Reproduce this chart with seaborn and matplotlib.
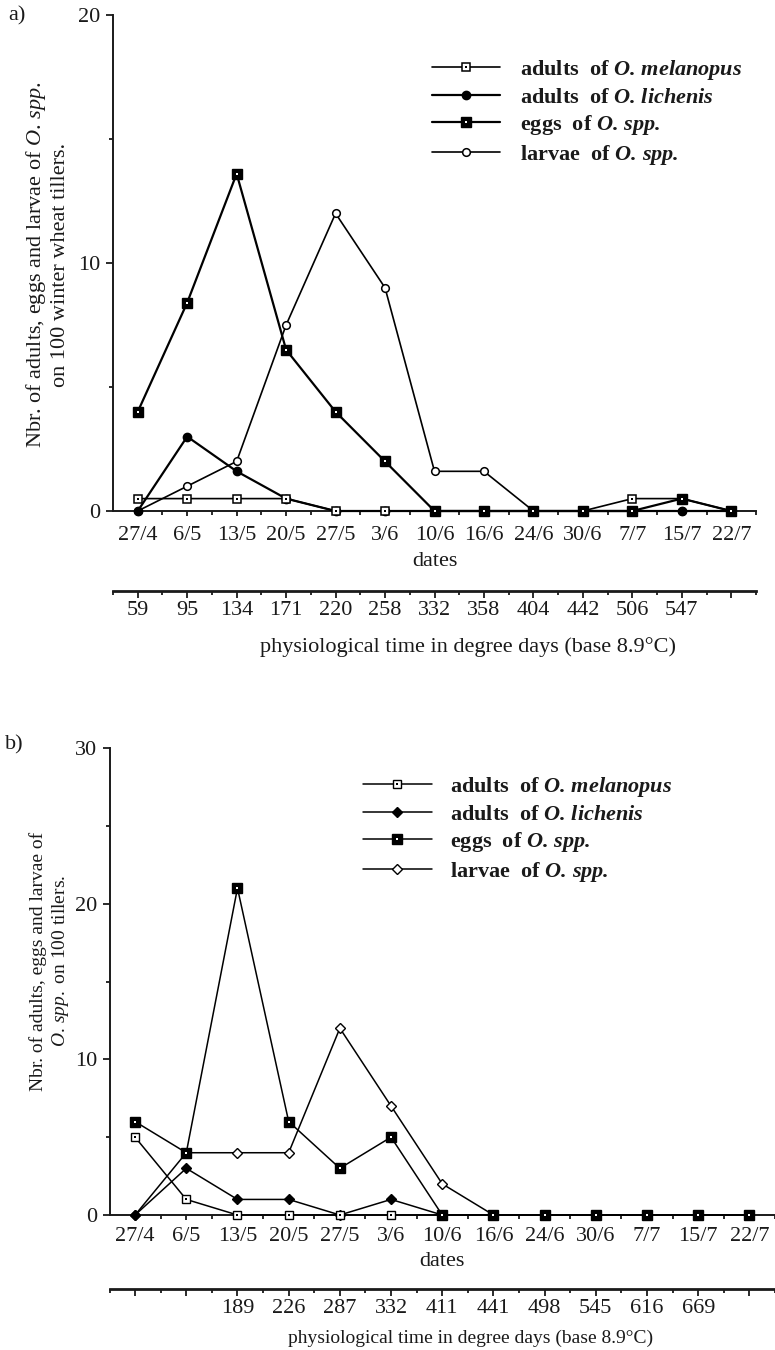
import numpy as np
import matplotlib
matplotlib.use("Agg")
import matplotlib.pyplot as plt
import seaborn as sns
from matplotlib.ticker import FixedLocator
from matplotlib.legend_handler import HandlerTuple

# ---------------- data ----------------
dates = ["27/4", "6/5", "13/5", "20/5", "27/5", "3/6", "10/6", "16/6",
         "24/6", "30/6", "7/7", "15/7", "22/7"]
degree_days_a = ["59", "95", "134", "171", "220", "258", "332", "358",
                 "404", "442", "506", "547", ""]
degree_days_b = ["", "", "189", "226", "287", "332", "411", "441",
                 "498", "545", "616", "669", ""]

a_melanopus = [0.5, 0.5, 0.5, 0.5, 0, 0, 0, 0, 0, 0, 0.5, 0.5, 0]
a_lichenis = [0, 3.0, 1.6, 0.5, 0, 0, 0, 0, 0, 0, 0, 0, 0]
a_eggs = [4.0, 8.4, 13.6, 6.5, 4.0, 2.0, 0, 0, 0, 0, 0, 0.5, 0]
a_larvae = [0, 1.0, 2.0, 7.5, 12.0, 9.0, 1.6, 1.6, 0, 0, 0, 0, 0]

b_melanopus = [5, 1, 0, 0, 0, 0, 0, 0, 0, 0, 0, 0, 0]
b_lichenis = [0, 3, 1, 1, 0, 1, 0, 0, 0, 0, 0, 0, 0]
b_eggs = [6, 4, 21, 6, 3, 5, 0, 0, 0, 0, 0, 0, 0]
b_larvae = [0, 4, 4, 4, 12, 7, 2, 0, 0, 0, 0, 0, 0]

labels = [r"adults  of $\mathbfit{O.\,melanopus}$",
          r"adults  of $\mathbfit{O.\,lichenis}$",
          r"eggs  of $\mathbfit{O.\,spp.}$",
          r"larvae  of $\mathbfit{O.\,spp.}$"]

# ---------------- style ----------------
sns.set_style("ticks")
plt.rcParams.update({
    "font.family": ["Liberation Serif", "DejaVu Serif"],
    "font.size": 16,
    "mathtext.fontset": "custom",
    "mathtext.rm": "Liberation Serif",
    "mathtext.it": "Liberation Serif:italic",
    "mathtext.bf": "Liberation Serif:bold",
    "mathtext.bfit": "Liberation Serif:italic:bold",
    "text.color": "#1a1a1a",
    "axes.labelcolor": "#1a1a1a",
    "xtick.color": "#1a1a1a",
    "ytick.color": "#1a1a1a",
    "axes.edgecolor": "#1a1a1a",
})

W, H = 775, 1350
fig = plt.figure(figsize=(W / 100, H / 100), dpi=100)


def fx(px):
    return px / W


def fy(py):
    return (H - py) / H


ax_a = fig.add_axes([fx(113), fy(511), (756 - 113) / W, (511 - 15) / H])
ax_b = fig.add_axes([fx(109.5), fy(1215), (775 - 109.5) / W, (1215 - 748) / H])


def draw_panel(ax, series, styles):
    x = np.arange(len(dates))
    handles = []
    for vals, st in zip(series, styles):
        sns.lineplot(x=x, y=vals, ax=ax, color="black", lw=st["lw"],
                     marker=st["marker"], ms=st["ms"], mfc=st["mfc"],
                     mec="black", mew=st["mew"], clip_on=False,
                     zorder=st["z"])
        parts = [ax.lines[-1]]
        if st.get("dot"):
            ax.plot(x, vals, ls="none", marker="s", ms=1.7, mew=0,
                    color=st["dot"], clip_on=False, zorder=st["z"] + 0.1)
            parts.append(ax.lines[-1])
        handles.append(tuple(parts))
    return handles


def style_axes(ax, ymax, ylab, ylab_size, ylab_xy, deg_labels, loc_sec,
               dates_y, date_pad, phys_xy, phys_size):
    ax.set_xlim(-0.5, 12.5)
    ax.set_ylim(0, ymax)
    sns.despine(ax=ax)
    for s in ("left", "bottom"):
        ax.spines[s].set_linewidth(1.4)
    ax.set_xticks(np.arange(len(dates)), labels=dates)
    ax.xaxis.set_minor_locator(FixedLocator(np.arange(0.5, 12.6, 1)))
    ax.set_yticks(np.arange(0, ymax + 1, 10))
    ax.yaxis.set_minor_locator(FixedLocator(np.arange(5, ymax, 10)))
    ax.tick_params(axis="x", which="major", direction="out", length=3.6,
                   width=1.3, pad=date_pad, labelsize=16)
    ax.tick_params(axis="x", which="minor", direction="out", length=3,
                   width=1.3)
    ax.tick_params(axis="y", which="major", direction="out", length=5,
                   width=1.3, pad=4, labelsize=16)
    ax.tick_params(axis="y", which="minor", direction="out", length=3,
                   width=1.3)
    ax.set_ylabel(ylab, fontsize=ylab_size, linespacing=1.2)
    ax.yaxis.label.set_verticalalignment("center")
    ax.yaxis.label.set_horizontalalignment("center")
    ax.yaxis.set_label_coords(*ylab_xy)
    ax.set_xlabel("dates", fontsize=16)
    ax.xaxis.label.set_verticalalignment("center")
    ax.xaxis.set_label_coords(0.5, dates_y)

    sec = ax.secondary_xaxis(loc_sec)
    sec.set_xticks(np.arange(len(dates)), labels=deg_labels)
    sec.xaxis.set_minor_locator(FixedLocator(np.arange(-0.5, 12.6, 1)))
    sec.tick_params(which="major", direction="out", length=5, width=1.3,
                    pad=2.5, labelsize=16)
    sec.tick_params(which="minor", direction="out", length=2.6, width=1.3)
    sec.spines["bottom"].set_linewidth(2.0)
    ax.text(phys_xy[0], phys_xy[1],
            "physiological time in degree days (base 8.9°C)",
            transform=ax.transAxes, ha="center", va="center",
            fontsize=phys_size)


legend_kw = dict(handler_map={tuple: HandlerTuple(ndivide=1, pad=0)},
                 loc="upper left", bbox_transform=fig.transFigure,
                 frameon=False, borderpad=0, borderaxespad=0,
                 labelspacing=0.24,
                 prop={"family": "Liberation Serif", "weight": "bold",
                       "size": 16})

# ---------------- panel a ----------------
styles_a = [
    dict(marker="s", ms=6, mfc="white", mew=1.1, lw=1.2, z=4, dot="black"),
    dict(marker="o", ms=6, mfc="black", mew=1.0, lw=1.6, z=3),
    dict(marker="s", ms=6.5, mfc="black", mew=1.0, lw=1.6, z=5, dot="white"),
    dict(marker="o", ms=5.5, mfc="white", mew=1.1, lw=1.2, z=2),
]
h_a = draw_panel(ax_a, [a_melanopus, a_lichenis, a_eggs, a_larvae], styles_a)
style_axes(ax_a, 20,
           "Nbr. of adults, eggs and larvae of $\\mathit{O.\\,spp.}$\n"
           "on 100 winter wheat tillers.", 16,
           ((47 - 113) / 643, (511 - 265) / 496),
           degree_days_a, -(591 - 511) / 496, -(562 - 511) / 496, 7.5,
           ((468 - 113) / 643, -(647 - 511) / 496), 16)

ax_a.legend(h_a, labels, bbox_to_anchor=(fx(432), fy(58)),
            handlelength=3.06, handletextpad=0.9, **legend_kw)

# ---------------- panel b ----------------
styles_b = [
    dict(marker="s", ms=6, mfc="white", mew=1.0, lw=1.1, z=4, dot="black"),
    dict(marker="D", ms=5, mfc="black", mew=1.0, lw=1.1, z=3),
    dict(marker="s", ms=6.5, mfc="black", mew=1.0, lw=1.1, z=5, dot="white"),
    dict(marker="D", ms=5, mfc="white", mew=1.0, lw=1.1, z=2),
]
h_b = draw_panel(ax_b, [b_melanopus, b_lichenis, b_eggs, b_larvae], styles_b)
style_axes(ax_b, 30,
           "Nbr. of adults, eggs and larvae of\n"
           "$\\mathit{O.\\,spp.}$ on 100 tillers.", 14,
           ((50 - 109.5) / 665.5, (1215 - 961) / 467),
           degree_days_b, -(1289 - 1215) / 467, -(1261 - 1215) / 467, 5,
           ((471 - 109.5) / 665.5, -(1338 - 1215) / 467), 14)

ax_b.legend(h_b, labels, bbox_to_anchor=(fx(363), fy(775)),
            handlelength=3.1, handletextpad=0.8, **legend_kw)

fig.text(fx(8), fy(16), "a)", ha="left", va="center", fontsize=16)
fig.text(fx(5), fy(745), "b)", ha="left", va="center", fontsize=16)

fig.savefig("out.png", dpi=100)
